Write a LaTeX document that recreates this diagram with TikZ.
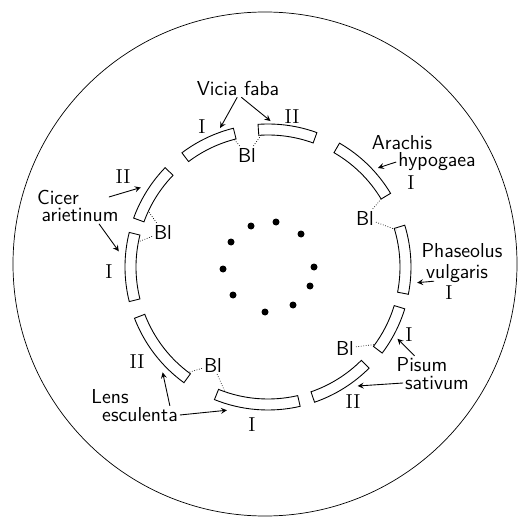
\documentclass[tikz,border=0pt]{standalone}
\usetikzlibrary{calc}
\tikzset{
  strip/.style={line width=0.5pt},
  lab/.style={font=\sffamily\fontsize{11.5}{13}\selectfont, inner sep=1pt},
  num/.style={font=\rmfamily\fontsize{11.5}{13}\selectfont, inner sep=1pt},
  blline/.style={densely dotted, line width=0.4pt},
  pointer/.style={->, >=stealth, line width=0.5pt},
}
\newcommand{\seedstrip}[2]{%
  \draw[strip] (#1:132) arc[start angle=#1, end angle=#2, radius=132]
    -- (#2:143) arc[start angle=#2, end angle=#1, radius=143] -- cycle;}

\begin{document}
\begin{tikzpicture}[x=0.02cm, y=0.02cm]
        \useasboundingbox (0,0) rectangle (521,-517);

        % Dish
        \draw[line width=0.4pt] (265,-264) circle[radius=252];

        % Ring of strips
        \begin{scope}[shift={(268,-267)}]
            \seedstrip{104}{127}   % Vicia I
            \seedstrip{70}{94}     % Vicia II
            \seedstrip{31}{60}     % Arachis I
            \seedstrip{-11}{17}    % Phaseolus I
            \seedstrip{-37}{-17}   % Pisum I
            \seedstrip{-71}{-45}   % Pisum II
            \seedstrip{-112}{-77}  % Lens I
            \seedstrip{201}{234}   % Lens II
            \seedstrip{166}{194}   % Cicer I
            \seedstrip{136}{160}   % Cicer II

            % arrow tips
            \coordinate (tipVfI) at (109:147);
            \coordinate (tipVfII) at (89:146);
            \coordinate (tipAh) at (42:148);
            \coordinate (tipPv) at (-6:150);
            \coordinate (tipPsI) at (-29:148);
            \coordinate (tipPsII) at (-53:149);
            \coordinate (tipLeI) at (-106:149);
            \coordinate (tipLeII) at (-135:149);
            \coordinate (tipCaI) at (174:150);
            \coordinate (tipCaII) at (148:150);

            % Bl ends
            \coordinate (endVfI) at (105:133);
            \coordinate (endVfII) at (93:132);
            \coordinate (endAh) at (31:132);
            \coordinate (endPv) at (16:134);
            \coordinate (endPs) at (-36:132);
            \coordinate (endLeI) at (-109:132);
            \coordinate (endLeII) at (233:132);
            \coordinate (endCaI) at (169:132);
            \coordinate (endCaII) at (155:132);
        \end{scope}

        % Seeds
        \fill (251,-226) circle[radius=3.5] (276,-222) circle[radius=3.5]
              (301,-234) circle[radius=3.5] (231,-242) circle[radius=3.5]
              (314,-267) circle[radius=3.5] (223,-269) circle[radius=3.5]
              (310,-286) circle[radius=3.5] (233,-295) circle[radius=3.5]
              (293,-305) circle[radius=3.5] (265,-312) circle[radius=3.5];

        % Vicia faba
        \node[lab] (vicia) at (238,-88) {Vicia faba};
        \node[num] (viciaI) at (202,-127) {I};
        \node[num] (viciaII) at (292,-117) {II};
        \draw[pointer] (vicia.-95) -- (tipVfI);
        \draw[pointer] (vicia.-70) -- (tipVfII);
        \node[lab] (blVf) at (247,-155) {Bl};
        \draw[blline] (blVf) -- (endVfI);
        \draw[blline] (blVf) -- (endVfII);

        % Arachis hypogaea
        \node[lab] (arachis) at (402,-143) {Arachis};
        \node[lab] (hypogaea) at (437,-162) {hypogaea};
        \node[num] (arachisI) at (411,-183) {I};
        \draw[pointer] (hypogaea.west) -- (tipAh);
        \node[lab] (blAh) at (365,-218) {Bl};
        \draw[blline] (blAh) -- (endAh);
        \draw[blline] (blAh) -- (endPv);

        % Phaseolus vulgaris
        \node[lab] (phaseolus) at (462,-251) {Phaseolus};
        \node[lab] (vulgaris) at (457,-274) {vulgaris};
        \node[num] (phaseolusI) at (449,-293) {I};
        \draw[pointer] ($(vulgaris.south west)+(10,4)$) -- (tipPv);

        % Pisum sativum
        \node[num] (pisumI) at (409,-335) {I};
        \node[lab] (pisum) at (422,-365) {Pisum};
        \node[lab] (sativum) at (437,-383) {sativum};
        \node[num] (pisumII) at (353,-402) {II};
        \draw[pointer] ($(pisum.north west)+(20,0)$) -- (tipPsI);
        \draw[pointer] (sativum.west) -- (tipPsII);
        \node[lab] (blPs) at (345,-348) {Bl};
        \draw[blline] (blPs) -- (endPs);

        % Lens esculenta
        \node[num] (lensII) at (137,-362) {II};
        \node[lab] (lens) at (110,-397) {Lens};
        \node[lab] (esculenta) at (140,-415) {esculenta};
        \node[num] (lensI) at (252,-425) {I};
        \draw[pointer] (esculenta.east) -- (tipLeI);
        \draw[pointer] ($(esculenta.north east)+(-10,0)$) -- (tipLeII);
        \node[lab] (blLe) at (213,-365) {Bl};
        \draw[blline] (blLe) -- (endLeII);
        \draw[blline] (blLe) -- (endLeI);

        % Cicer arietinum
        \node[num] (cicerII) at (123,-177) {II};
        \node[lab] (cicer) at (58,-197) {Cicer};
        \node[lab] (arietinum) at (80,-215) {arietinum};
        \node[num] (cicerI) at (109,-272) {I};
        \draw[pointer] ($(cicer.east)+(28,0)$) -- (tipCaII);
        \draw[pointer] ($(arietinum.south)+(19,0)$) -- (tipCaI);
        \node[lab] (blCa) at (163,-232) {Bl};
        \draw[blline] (blCa) -- (endCaII);
        \draw[blline] (blCa) -- (endCaI);
\end{tikzpicture}
\end{document}
